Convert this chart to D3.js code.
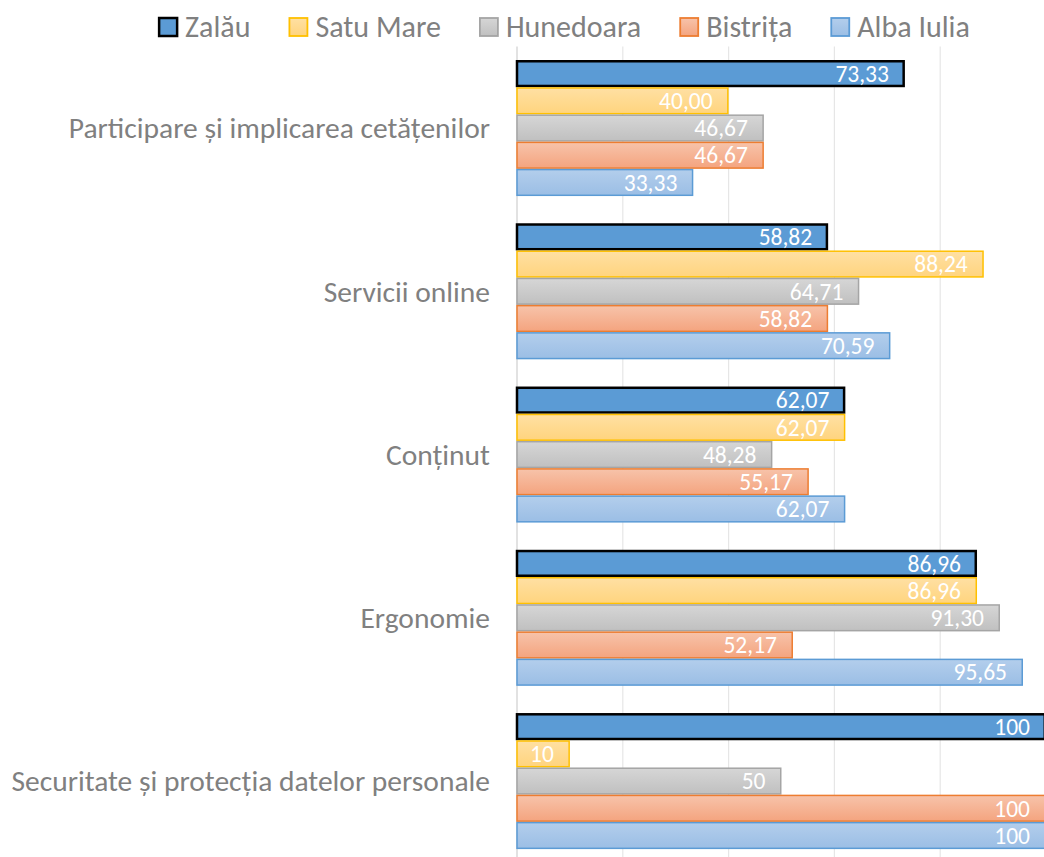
<!DOCTYPE html>
<html>
<head>
<meta charset="utf-8">
<script src="https://cdn.jsdelivr.net/npm/d3@7/dist/d3.min.js"></script>
<style>
  html, body { margin: 0; padding: 0; background: #ffffff; }
  svg { display: block; }
  text { font-family: Carlito, Calibri, Lato, sans-serif; }
</style>
</head>
<body>
<svg id="chart" width="1044" height="857"></svg>
<script>
// Categories, top to bottom
const categories = [
  "Participare și implicarea cetățenilor",
  "Servicii online",
  "Conținut",
  "Ergonomie",
  "Securitate și protecția datelor personale"
];
// Decimal places shown in the value labels for each category
const labelDecimals = [2, 2, 2, 2, 0];

// Series (cities), in legend / bar order
const seriesNames = ["Zalău", "Satu Mare", "Hunedoara", "Bistrița", "Alba Iulia"];
const zalau     = [73.33, 58.82, 62.07, 86.96, 100];
const satuMare  = [40.00, 88.24, 62.07, 86.96, 10];
const hunedoara = [46.67, 64.71, 48.28, 91.30, 50];
const bistrita  = [46.67, 58.82, 55.17, 52.17, 100];
const albaIulia = [33.33, 70.59, 62.07, 95.65, 100];
const seriesValues = [zalau, satuMare, hunedoara, bistrita, albaIulia];

// Value axis ticks (gridlines)
const xTicks = [0, 20, 40, 60, 80, 100];

// Styling per series
const styles = [
  { fill: "#5B9BD5", stroke: "#000000", sw: 2.5, grad: null },
  { stroke: "#FFC000", sw: 1.5, grad: ["#FFE0A3", "#FFD47E"] },
  { stroke: "#A5A5A5", sw: 1.5, grad: ["#D6D6D6", "#C0C0C0"] },
  { stroke: "#ED7D31", sw: 1.5, grad: ["#F7C3AA", "#F4A47F"] },
  { stroke: "#5B9BD5", sw: 1.5, grad: ["#B3CEEC", "#9BBEE5"] }
];

const svg = d3.select("#chart");
const defs = svg.append("defs");
styles.forEach((s, i) => {
  if (!s.grad) { s.paint = s.fill; return; }
  const g = defs.append("linearGradient")
    .attr("id", "grad" + i)
    .attr("x1", 0).attr("y1", 0).attr("x2", 0).attr("y2", 1);
  g.append("stop").attr("offset", "0%").attr("stop-color", s.grad[0]);
  g.append("stop").attr("offset", "100%").attr("stop-color", s.grad[1]);
  s.paint = "url(#grad" + i + ")";
});

const plot = { left: 517, right: 1046, top: 46.4, bottom: 862.7 };

const x = d3.scaleLinear().domain([0, 100]).range([plot.left, plot.right]);
const y = d3.scaleBand().domain(categories)
  .range([plot.top, plot.bottom])
  .paddingInner(1 / 6).paddingOuter(1 / 12);
const ySeries = d3.scaleBand().domain(seriesNames)
  .range([0, y.bandwidth()]).padding(0);

// Gridlines
svg.append("g").selectAll("line")
  .data(xTicks.filter(t => t > 0))
  .join("line")
  .attr("x1", d => x(d)).attr("x2", d => x(d))
  .attr("y1", plot.top).attr("y2", 857)
  .attr("stroke", "#E6E6E6").attr("stroke-width", 1.2);

// Category axis line
svg.append("line")
  .attr("x1", x(0)).attr("x2", x(0))
  .attr("y1", plot.top).attr("y2", 857)
  .attr("stroke", "#D9D9D9").attr("stroke-width", 1.5);

// Bars
const fmt = (v, dec) => v.toFixed(dec).replace(".", ",");

categories.forEach((cat, ci) => {
  const g = svg.append("g");
  seriesNames.forEach((name, si) => {
    const v = seriesValues[si][ci];
    const st = styles[si];
    const y0 = y(cat) + ySeries(name);
    const h = ySeries.bandwidth();
    g.append("rect")
      .attr("x", x(0))
      .attr("y", y0 + st.sw / 2)
      .attr("width", Math.max(0, x(v) - x(0) - st.sw / 2))
      .attr("height", h - st.sw)
      .attr("fill", st.paint)
      .attr("stroke", st.stroke)
      .attr("stroke-width", st.sw);
  });
});

// Value labels (inside end)
categories.forEach((cat, ci) => {
  seriesNames.forEach((name, si) => {
    const v = seriesValues[si][ci];
    const yc = y(cat) + ySeries(name) + ySeries.bandwidth() / 2;
    svg.append("text")
      .attr("x", x(v) - 16)
      .attr("y", yc)
      .attr("dy", "0.35em")
      .attr("text-anchor", "end")
      .attr("fill", "#ffffff")
      .attr("font-size", 23.5)
      .text(fmt(v, labelDecimals[ci]));
  });
});

// Category labels
const yAxis = d3.axisLeft(y).tickSize(0).tickPadding(0);
const yAxisG = svg.append("g")
  .attr("transform", `translate(490,0)`)
  .call(yAxis);
yAxisG.select(".domain").remove();
yAxisG.selectAll("text")
  .attr("font-size", 29.5)
  .attr("fill", "#808080")
  .attr("dy", "0.35em");

// Legend, centred above the plot
const legend = svg.append("g");
const items = legend.selectAll("g").data(seriesNames).join("g");
items.append("rect")
  .attr("width", 18).attr("height", 18)
  .attr("x", 1).attr("y", 18)
  .attr("fill", (d, i) => styles[i].paint)
  .attr("stroke", (d, i) => styles[i].stroke)
  .attr("stroke-width", (d, i) => i === 0 ? 2.5 : 1.8);
items.append("text")
  .attr("x", 27).attr("y", 37)
  .attr("font-size", 30)
  .attr("fill", "#808080")
  .text(d => d);
let cursor = 0;
const widths = [];
items.each(function () {
  const w = 27 + this.querySelector("text").getComputedTextLength();
  widths.push(w);
});
const gap = 38;
const total = d3.sum(widths) + gap * (widths.length - 1);
cursor = 564 - total / 2;
items.attr("transform", (d, i) => {
  const t = `translate(${cursor},0)`;
  cursor += widths[i] + gap;
  return t;
});
</script>
</body>
</html>
